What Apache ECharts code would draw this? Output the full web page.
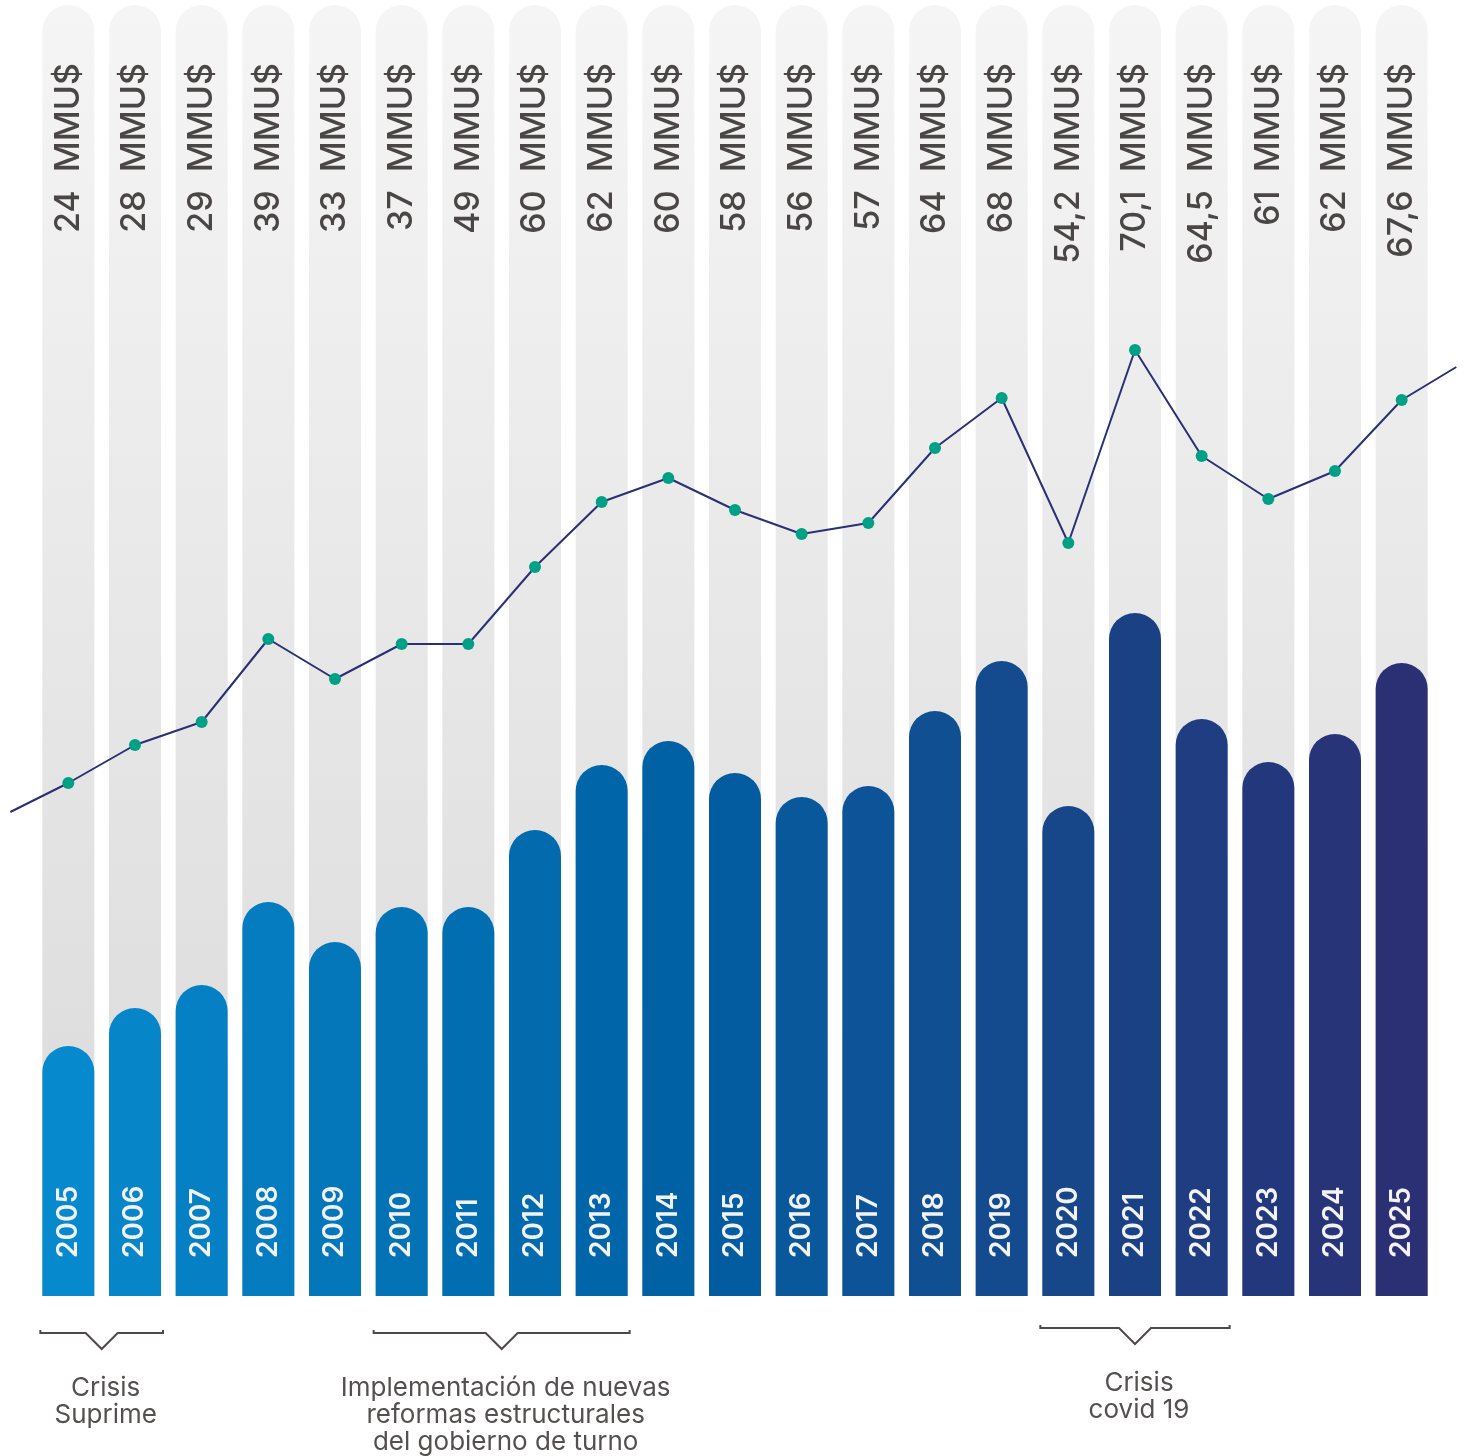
<!DOCTYPE html>
<html>
<head>
<meta charset="utf-8">
<script src="https://cdn.jsdelivr.net/npm/echarts@6/dist/echarts.min.js"></script>
<style>
  html, body { margin: 0; padding: 0; background: #fff; }
  #chart { width: 1464px; height: 1456px; }
</style>
</head>
<body>
<div id="chart"></div>
<script>
const years = ['2005', '2006', '2007', '2008', '2009', '2010', '2011', '2012', '2013', '2014', '2015',
  '2016', '2017', '2018', '2019', '2020', '2021', '2022', '2023', '2024', '2025'];
// text printed at the top of each column (MMUS$)
const amountLabels = ['24', '28', '29', '39', '33', '37', '49', '60', '62', '60', '58',
  '56', '57', '64', '68', '54,2', '70,1', '64,5', '61', '62', '67,6'];
// bar heights as drawn (index units), the line follows the same values
const barValues = [25.0, 28.8, 31.1, 39.4, 35.4, 38.9, 38.9, 46.6, 53.1, 55.5, 52.3,
  49.9, 51.0, 58.5, 63.5, 49.0, 68.3, 57.7, 53.4, 56.2, 63.3];
// the line runs a bit past the first and last year: [category position, value]
const lineLeadIn = [-0.87, 22.1];
const lineLeadOut = [20.82, 66.6];
const periods = [
  { from: '2005', to: '2006', text: 'Crisis\nSuprime' },
  { from: '2010', to: '2013', text: 'Implementación de nuevas\nreformas estructurales\ndel gobierno de turno' },
  { from: '2020', to: '2022', text: 'Crisis\ncovid 19' }
];

const FONT = 'Inter';
const Y_MAX = 129.1;
const LINE_SHIFT = 26.3;
const W = 1464, LEFT = 35, PLOT_W = 1400, N = years.length;
const band = PLOT_W / N;

function hex(c) { return [1, 3, 5].map(k => parseInt(c.slice(k, k + 2), 16)); }
function mix(a, b, t) {
  const A = hex(a), B = hex(b);
  return 'rgb(' + A.map((v, k) => Math.round(v + (B[k] - v) * t)).join(',') + ')';
}
function barColor(i) {
  const t = i / (N - 1);
  if (t < 0.45) return mix('#0789CD', '#0061A4', t / 0.45);
  return mix('#0061A4', '#2B2F73', (t - 0.45) / 0.55);
}

const chart = echarts.init(document.getElementById('chart'));

const lineData = [
  { value: lineLeadIn, symbolSize: 0 },
  ...barValues.map((v, i) => [i, v]),
  { value: lineLeadOut, symbolSize: 0 }
];

chart.setOption({
  animation: false,
  grid: [
    { left: LEFT, width: PLOT_W, top: 5, height: 1291 },
    // full-width grid for the line so it can run to the page edges
    { left: 0, width: W, top: 5, height: 1291 }
  ],
  xAxis: [
    {
      type: 'category',
      data: years,
      gridIndex: 0,
      z: 10,
      axisLine: { show: false },
      axisTick: { show: false },
      axisLabel: {
        inside: true,
        rotate: 90,
        margin: 38,
        color: '#f2f2f2',
        fontFamily: FONT,
        fontSize: 28,
        fontWeight: 600
      }
    },
    {
      type: 'value', gridIndex: 1, show: false,
      min: -0.5 - LEFT / band,
      max: N - 0.5 + (W - LEFT - PLOT_W) / band
    }
  ],
  yAxis: [
    { type: 'value', gridIndex: 0, min: 0, max: Y_MAX, show: false },
    { type: 'value', gridIndex: 1, min: -LINE_SHIFT, max: Y_MAX - LINE_SHIFT, show: false }
  ],
  series: [
    {
      type: 'bar',
      data: years.map(() => Y_MAX),
      barWidth: 52,
      barGap: '-100%',
      silent: true,
      itemStyle: {
        borderRadius: [26, 26, 0, 0],
        color: new echarts.graphic.LinearGradient(0, 0, 0, 1, [
          { offset: 0, color: '#f5f5f5' },
          { offset: 1, color: '#d9d9d9' }
        ])
      },
      label: {
        show: true,
        position: ['50%', 58],
        rotate: 90,
        align: 'right',
        verticalAlign: 'middle',
        formatter: p => amountLabels[p.dataIndex] + '  MMU$',
        color: '#4b4646',
        fontFamily: FONT,
        fontSize: 34,
        fontWeight: 500
      }
    },
    {
      type: 'bar',
      data: barValues.map((v, i) => ({ value: v, itemStyle: { color: barColor(i) } })),
      barWidth: 52,
      itemStyle: { borderRadius: [26, 26, 0, 0] }
    },
    {
      type: 'line',
      xAxisIndex: 1,
      yAxisIndex: 1,
      data: lineData,
      z: 5,
      symbol: 'circle',
      symbolSize: 12,
      lineStyle: { color: '#2B2F73', width: 2 },
      itemStyle: { color: '#00A087' }
    }
  ]
});

// period brackets under the columns
const halfBar = 26;
const graphics = [];
periods.forEach((p, k) => {
  const x1 = chart.convertToPixel({ xAxisIndex: 0 }, p.from) - halfBar - 2;
  const x2 = chart.convertToPixel({ xAxisIndex: 0 }, p.to) + halfBar + 2;
  const xc = (x1 + x2) / 2;
  const y = k === 2 ? 1328 : 1333;
  graphics.push({
    type: 'polyline',
    shape: {
      points: [[x1, y - 3], [x1, y], [xc - 16, y], [xc, y + 16], [xc + 16, y], [x2, y], [x2, y - 3]]
    },
    style: { stroke: '#4e4848', lineWidth: 2, fill: null }
  });
  graphics.push({
    type: 'text',
    x: xc + 4,
    y: y + 42,
    style: {
      text: p.text,
      fill: '#555050',
      font: '26px ' + FONT,
      lineHeight: 27,
      align: 'center',
      verticalAlign: 'top'
    }
  });
});
chart.setOption({ graphic: graphics });
</script>
</body>
</html>
